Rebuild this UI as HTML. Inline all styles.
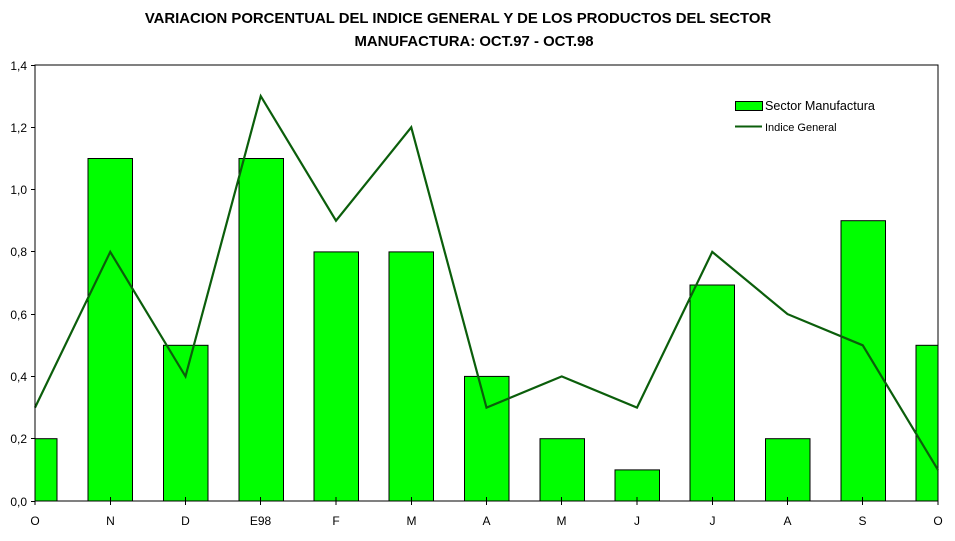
<!DOCTYPE html>
<html><head><meta charset="utf-8"><style>body{margin:0;background:#fff}</style></head><body>
<svg width="955" height="536" xmlns="http://www.w3.org/2000/svg" font-family="Liberation Sans, Arial, sans-serif">
<rect width="955" height="536" fill="#fff"/>
<text x="458" y="23" font-size="14.9" font-weight="bold" text-anchor="middle">VARIACION PORCENTUAL DEL INDICE GENERAL Y DE LOS PRODUCTOS DEL SECTOR</text>
<text x="474" y="46" font-size="14.9" font-weight="bold" text-anchor="middle">MANUFACTURA: OCT.97 - OCT.98</text>
<rect x="35" y="65" width="903" height="436" fill="none" stroke="#000" stroke-width="1"/>
<g fill="#00ff00" stroke="#000" stroke-width="1">
<rect x="35" y="438.7" width="22" height="62.3"/>
<rect x="88" y="158.5" width="44.5" height="342.5"/>
<rect x="163.5" y="345.3" width="44.5" height="155.7"/>
<rect x="239" y="158.5" width="44.5" height="342.5"/>
<rect x="314" y="251.9" width="44.5" height="249.1"/>
<rect x="389" y="251.9" width="44.5" height="249.1"/>
<rect x="464.5" y="376.4" width="44.5" height="124.6"/>
<rect x="540" y="438.7" width="44.5" height="62.3"/>
<rect x="615" y="469.9" width="44.5" height="31.1"/>
<rect x="690" y="285" width="44.5" height="216"/>
<rect x="765.5" y="438.7" width="44.5" height="62.3"/>
<rect x="841" y="220.7" width="44.5" height="280.3"/>
<rect x="916" y="345.3" width="22" height="155.7"/>
</g>
<polyline fill="none" stroke="#0b5e0b" stroke-width="2.2" points="35,407.6 110.25,251.9 185.5,376.4 260.75,96.1 336,220.7 411.25,127.3 486.5,407.6 561.75,376.4 637,407.6 712.25,251.9 787.5,314.1 862.75,345.3 938,469.9"/>
<g stroke="#000" stroke-width="1">
<line x1="35" y1="65" x2="35" y2="501"/><line x1="35" y1="501" x2="938" y2="501"/>
<line x1="31" y1="65.5" x2="35" y2="65.5"/><line x1="31" y1="127.5" x2="35" y2="127.5"/><line x1="31" y1="189.5" x2="35" y2="189.5"/><line x1="31" y1="251.5" x2="35" y2="251.5"/><line x1="31" y1="314.5" x2="35" y2="314.5"/><line x1="31" y1="376.5" x2="35" y2="376.5"/><line x1="31" y1="438.5" x2="35" y2="438.5"/><line x1="31" y1="501.5" x2="35" y2="501.5"/>
<line x1="35" y1="497" x2="35" y2="505"/><line x1="110.5" y1="497" x2="110.5" y2="505"/><line x1="185.5" y1="497" x2="185.5" y2="505"/><line x1="260.5" y1="497" x2="260.5" y2="505"/><line x1="336" y1="497" x2="336" y2="505"/><line x1="411.5" y1="497" x2="411.5" y2="505"/><line x1="486.5" y1="497" x2="486.5" y2="505"/><line x1="561.5" y1="497" x2="561.5" y2="505"/><line x1="637" y1="497" x2="637" y2="505"/><line x1="712.5" y1="497" x2="712.5" y2="505"/><line x1="787.5" y1="497" x2="787.5" y2="505"/><line x1="862.5" y1="497" x2="862.5" y2="505"/><line x1="938" y1="497" x2="938" y2="505"/>
</g>
<g font-size="12" text-anchor="end">
<text x="27" y="70">1,4</text><text x="27" y="132">1,2</text><text x="27" y="194">1,0</text><text x="27" y="256">0,8</text><text x="27" y="319">0,6</text><text x="27" y="381">0,4</text><text x="27" y="443">0,2</text><text x="27" y="506">0,0</text>
</g>
<g font-size="12" text-anchor="middle">
<text x="35" y="525">O</text><text x="110.5" y="525">N</text><text x="185.5" y="525">D</text><text x="260.5" y="525">E98</text><text x="336" y="525">F</text><text x="411.5" y="525">M</text><text x="486.5" y="525">A</text><text x="561.5" y="525">M</text><text x="637" y="525">J</text><text x="712.5" y="525">J</text><text x="787.5" y="525">A</text><text x="862.5" y="525">S</text><text x="938" y="525">O</text>
</g>
<rect x="735.5" y="101.5" width="27" height="9" fill="#00ff00" stroke="#000"/>
<text x="765" y="110" font-size="12.6">Sector Manufactura</text>
<line x1="735" y1="126.5" x2="762" y2="126.5" stroke="#0b5e0b" stroke-width="2"/>
<text x="765" y="131" font-size="11">Indice General</text>
</svg>
</body></html>
